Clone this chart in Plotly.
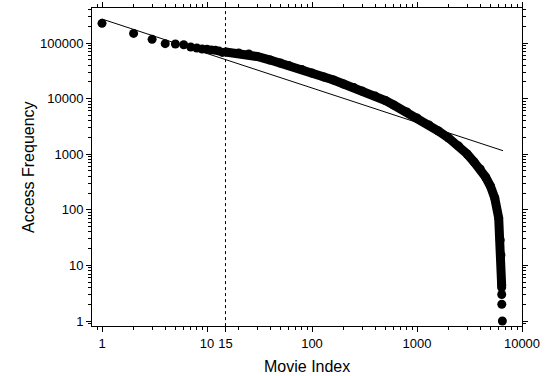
import plotly.graph_objects as go

# individual top-ranked movies (rank, access count)
top_rank = [1, 2, 3, 4, 5, 6, 7, 8, 9, 10, 11, 12, 13, 14]
top_freq = [226000, 149000, 116500, 97300, 96000, 93100, 84700, 81300, 78000, 77100, 74800, 74000, 71800, 67700]

# dense body of the distribution (read along the band of markers)
body_rank = [15, 20, 25, 30, 40, 50, 60, 80, 100, 130, 160, 200, 250, 300, 400, 500, 600,
             800, 1000, 1300, 1600, 2000, 2500, 3000, 3500, 4000, 4500, 5000, 5500, 6000,
             6200, 6300, 6400]
body_freq = [68900, 66100, 63400, 57200, 49400, 43700, 39400, 33400, 28900, 24400, 21600,
             18300, 15800, 13700, 11100, 9250, 7670, 5740, 4480, 3350, 2610, 1960, 1400,
             1010, 724, 542, 389, 268, 163, 71, 28.6, 15.4, 4.4]

# tail: least accessed movies
tail_rank = [6400, 6410, 6420, 6500]
tail_freq = [4, 3, 2, 1]

# power-law fit line endpoints
fit_rank = [1, 6600]
fit_freq = [270000, 1155]

# vertical marker
vline_rank = 15

x_tickvals = [1, 10, 15, 100, 1000, 10000]
x_ticktext = ["1", "10", "15", "100", "1000", "10000"]
y_tickvals = [1, 10, 100, 1000, 10000, 100000]
y_ticktext = ["1", "10", "100", "1000", "10000", "100000"]

FONT = "Liberation Sans, Arial, sans-serif"
MS = 9

fig = go.Figure()
fig.add_trace(go.Scatter(x=body_rank, y=body_freq, mode="lines+markers",
                         line=dict(color="black", width=MS),
                         marker=dict(color="black", size=MS), hoverinfo="skip"))
fig.add_trace(go.Scatter(x=top_rank, y=top_freq, mode="markers",
                         marker=dict(color="black", size=MS)))
fig.add_trace(go.Scatter(x=tail_rank, y=tail_freq, mode="markers",
                         marker=dict(color="black", size=MS)))
fig.add_trace(go.Scatter(x=fit_rank, y=fit_freq, mode="lines",
                         line=dict(color="black", width=1)))
fig.add_trace(go.Scatter(x=[vline_rank, vline_rank], y=[0.81, 430000], mode="lines",
                         line=dict(color="black", width=1, dash="dot")))

fig.update_layout(
    width=546, height=376,
    margin=dict(l=92, r=24, t=8, b=50, autoexpand=False),
    paper_bgcolor="white", plot_bgcolor="white",
    showlegend=False,
    font=dict(family=FONT, size=13, color="black"),
    annotations=[
        dict(text="Movie Index", xref="paper", yref="paper", x=0.5, y=-0.1289,
             xanchor="center", yanchor="middle", showarrow=False,
             font=dict(family=FONT, size=16, color="black")),
        dict(text="Access Frequency", xref="paper", yref="paper", x=-0.1488, y=0.5,
             xanchor="center", yanchor="middle", textangle=-90, showarrow=False,
             font=dict(family=FONT, size=16, color="black")),
    ],
)
axis_common = dict(
    showgrid=False, zeroline=False, showline=True, linecolor="black", linewidth=1,
    mirror="allticks", ticks="outside", ticklen=5, tickwidth=1, tickcolor="black",
    automargin=False,
    tickfont=dict(family=FONT, size=13, color="black"),
    minor=dict(ticks="outside", ticklen=3, tickwidth=1, tickcolor="black",
               dtick="D1", showgrid=False),
)
fig.update_xaxes(type="log", range=[-0.0952, 4.0], tickmode="array",
                 tickvals=x_tickvals, ticktext=x_ticktext, **axis_common)
fig.update_yaxes(type="log", range=[-0.09, 5.63], tickmode="array",
                 tickvals=y_tickvals, ticktext=y_ticktext, **axis_common)

fig.write_html("out.html")
